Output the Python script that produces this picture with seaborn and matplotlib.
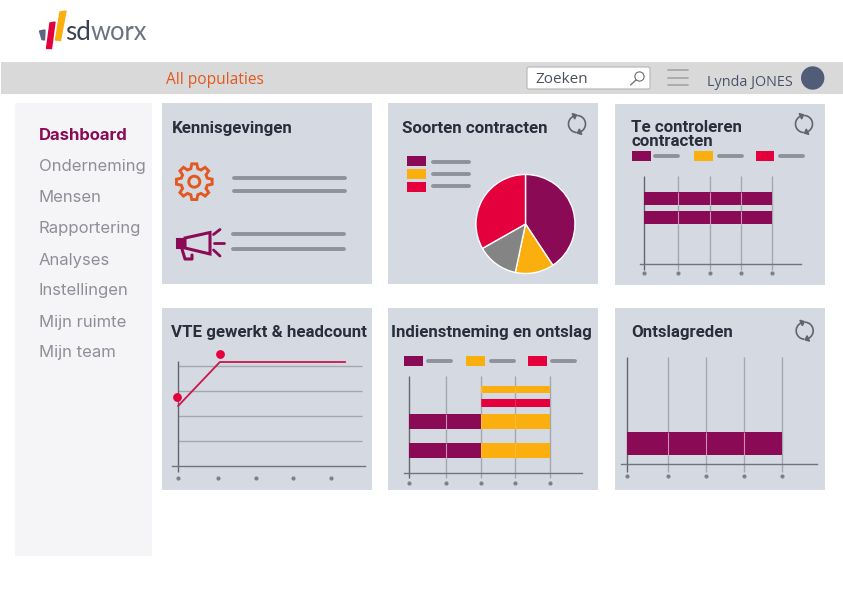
import numpy as np
import pandas as pd
import matplotlib
matplotlib.use('Agg')
import matplotlib.pyplot as plt
from matplotlib.patches import Rectangle, FancyBboxPatch, Circle, Polygon
import seaborn as sns

sns.set_theme(style='white')
plt.rcParams['font.family'] = ['Roboto', 'DejaVu Sans']

W, H = 843, 596
PURPLE = '#8a0a55'
YELLOW = '#fbaf0f'
RED = '#e4003c'
GREY = '#8d929c'
PANEL = '#d5dae2'
AXIS = '#70747e'
TITLE = '#2a2e3c'
ORANGE = '#e2581f'

fig = plt.figure(figsize=(W / 100, H / 100), dpi=100, facecolor='white')

# background layer in pixel coordinates
bg = fig.add_axes([0, 0, 1, 1])
bg.set_xlim(0, W)
bg.set_ylim(H, 0)
bg.axis('off')


def px_axes(left, top, right, bottom):
    ax = fig.add_axes([left / W, 1 - bottom / H, (right - left) / W, (bottom - top) / H])
    ax.patch.set_alpha(0)
    return ax


def box(x0, y0, x1, y1, color):
    bg.add_patch(Rectangle((x0, y0), x1 - x0, y1 - y0, facecolor=color, edgecolor='none'))


def stub(x0, x1, y, color=GREY, lw=2.8):
    bg.plot([x0, x1], [y, y], color=color, lw=lw, solid_capstyle='round')


# top bar and sidebar
box(1, 62, 843, 94, '#d9d9d9')
box(15, 103, 152, 556, '#f5f4f6')

# logo
bg.add_patch(Polygon([(39.5, 31), (45, 30), (44.5, 40), (42, 39.5)], color='#5c6680'))
bg.add_patch(Polygon([(50, 23), (55, 22), (51.5, 48.5), (46.5, 48.5)], color=RED))
bg.add_patch(Polygon([(60, 12), (66, 11), (60.5, 40.5), (55.5, 40)], color=YELLOW))
bg.text(65, 40, 'sd', fontsize=18.7, color='#3b4256', family='Lato', va='baseline')
bg.text(90.5, 40, 'worx', fontsize=18.4, color='#6d7280', family='Lato', va='baseline')

# header
bg.text(166, 80.5, 'All populaties', fontsize=11.2, color=ORANGE, family='Open Sans', va='center')
bg.add_patch(FancyBboxPatch((527, 67), 123, 22, boxstyle='round,pad=0,rounding_size=2',
                            facecolor='white', edgecolor='#b5b5b5', lw=0.8))
bg.text(535, 79.5, 'Zoeken', fontsize=11, color='#4a5060', family='Open Sans', va='center')
bg.add_patch(Circle((639.5, 76.5), 4.6, facecolor='none', edgecolor='#666b75', lw=0.8))
bg.plot([636, 630.5], [80, 85], color='#666b75', lw=0.9)
for y in [70, 77.5, 85]:
    bg.plot([668, 688], [y, y], color='#a9a9a9', lw=1.3)
bg.text(707, 82.5, 'Lynda JONES', fontsize=10.4, color='#4a5468', family='Open Sans', va='center')
bg.add_patch(Circle((812.7, 78), 11, color='#515c78'))

# side menu
menu = ['Dashboard', 'Onderneming', 'Mensen', 'Rapportering', 'Analyses',
        'Instellingen', 'Mijn ruimte', 'Mijn team']
for i, item in enumerate(menu):
    bg.text(39, 140.5 + 31 * i, item, fontsize=12, family='Inter', va='baseline',
            color=PURPLE if i == 0 else '#8e8f98', fontweight='bold' if i == 0 else 'normal')

# panels
panels = [(162, 103, 372, 284), (388, 103, 598, 284), (615, 104, 825, 285),
          (162, 308, 372, 490), (388, 308, 598, 490), (615, 308, 825, 490)]
for p in panels:
    box(*p, PANEL)

titles = [(172, 133, 'Kennisgevingen'), (402, 133, 'Soorten contracten'),
          (631, 132, 'Te controleren'), (631, 146, 'contracten'),
          (171, 337, 'VTE gewerkt & headcount'), (391, 337, 'Indienstneming en ontslag'),
          (631, 337, 'Ontslagreden')]
for x, y, t in titles:
    bg.text(x, y, t, fontsize=12.15, fontweight='bold', color=TITLE, va='baseline')


# refresh icons
def refresh(cx, cy, r=8.5):
    for start in [115, 295]:
        a = np.radians(np.linspace(start, start + 150, 30))
        bg.plot(cx + r * np.cos(a), cy - r * np.sin(a), color='#5f6570', lw=1.2)
        e = np.radians(start)
        ex, ey = cx + r * np.cos(e), cy - r * np.sin(e)
        bg.add_patch(Polygon([(ex + 3 * np.cos(e), ey - 3 * np.sin(e)),
                              (ex - 3 * np.cos(e), ey + 3 * np.sin(e)),
                              (ex + 3.5 * np.sin(e), ey + 3.5 * np.cos(e))], color='#5f6570'))


refresh(577, 124)
refresh(804, 124)
refresh(804.7, 330.7)

# Kennisgevingen: gear and megaphone
gear_angles = np.arange(0, 360, 45)
pts = []
for a in gear_angles:
    for da, r in [(-15, 13.5), (-8, 18), (8, 18), (15, 13.5)]:
        t = np.radians(a + da)
        pts.append((194.3 + r * np.cos(t), 181.7 + r * np.sin(t)))
bg.add_patch(Polygon(pts, closed=True, facecolor='none', edgecolor=ORANGE, lw=2.1))
bg.add_patch(Circle((194.3, 181.7), 5.5, facecolor='none', edgecolor=ORANGE, lw=2.1))
stub(233.5, 345, 177.7)
stub(233.5, 345, 191.3)

bg.add_patch(Polygon([(185, 238), (210, 232.5), (210, 254), (185, 248)], closed=True,
                     facecolor='none', edgecolor=PURPLE, lw=2.2))
bg.add_patch(Rectangle((177, 238.5), 8, 9.5, facecolor=PURPLE, edgecolor=PURPLE, lw=1.5))
bg.plot([182, 185, 192, 192], [249, 259, 259, 255], color=PURPLE, lw=2.2)
for seg in [((213.5, 234.5), (220, 229.5)), ((214, 242.5), (224, 242.5)), ((213.5, 250), (220, 256))]:
    bg.plot(*zip(*seg), color=PURPLE, lw=2)
stub(232.5, 344, 234.3)
stub(232.5, 344, 249)

# Soorten contracten: pie
for y0, col, ly in [(156.3, PURPLE, 161.7), (168.7, YELLOW, 173.7), (181.7, RED, 186)]:
    box(407, y0, 426, y0 + 10, col)
    stub(433, 469, ly)

pie_ax = px_axes(476, 174.5, 575, 273.5)
contracts = pd.Series({'a': 40.7, 'b': 12.6, 'c': 13.5, 'd': 33.2})
pie_ax.pie(contracts, colors=[PURPLE, YELLOW, '#848484', RED], startangle=90, counterclock=False,
           radius=1)
pie_ax.set_xlim(-1, 1)
pie_ax.set_ylim(-1, 1)


def bar_chart(left, top, right, axis_y, origin, ticks, rows, tick_y, grid_bottom):
    """Horizontal bars, the x and y units of the axes are pixels from first grid line / top."""
    ax = px_axes(left, top, right, axis_y)
    height = axis_y - top
    for row in rows.itertuples():
        sns.barplot(x=[row.length], y=[row.y], orient='y', native_scale=True, width=row.h,
                    left=row.start, color=row.color, saturation=1, errorbar=None, ax=ax, zorder=3,
                    linewidth=0, edgecolor='none')
    ax.set_xlim(left - origin, right - origin)
    ax.set_ylim(height, 0)
    ax.set_xticks([])
    ax.set_yticks([])
    ax.set_xlabel('')
    ax.set_ylabel('')
    sns.despine(ax=ax, left=True, top=True, right=True)
    ax.spines['bottom'].set_color(AXIS)
    ax.spines['bottom'].set_linewidth(1)
    # grid lines run a little past the axis
    ax.vlines(ticks, 0, grid_bottom - top, color=['#63666f'] + ['#a3a7af'] * (len(ticks) - 1),
              lw=1, zorder=1, clip_on=False)
    # where they cross a bar they show as a light hairline
    for row in rows.itertuples():
        for t in ticks:
            if row.start < t < row.start + row.length:
                ax.vlines(t, row.y - row.h / 2, row.y + row.h / 2, color='white',
                          alpha=0.55 if row.color == PURPLE else 0.15, lw=0.8, zorder=4)
    ax.scatter(ticks, [tick_y - top] * len(ticks), s=9, marker='o', color='#7d8088', lw=0, clip_on=False)
    return ax


# Te controleren contracten
for x0, col, l0, l1 in [(632.3, PURPLE, 655, 678), (694, YELLOW, 718.5, 741.5), (755.7, RED, 779.5, 802.5)]:
    box(x0, 151, x0 + 18.5, 161, col)
    stub(l0, l1, 156.3)

rows3 = pd.DataFrame({'y': [22.5, 41.5], 'start': [0, 0], 'length': [128, 128], 'h': [13, 13],
                      'color': [PURPLE, PURPLE]})
bar_chart(640, 176, 801, 264, 644, [0, 34, 66, 97, 128], rows3, 273, 270)

# VTE gewerkt & headcount
line_ax = px_axes(172, 341, 365, 466)
vte = pd.DataFrame({'x': [0, 1.1, 4.4], 'y': [2.4, 4.16, 4.16]})
peaks = pd.DataFrame({'x': [-0.03, 1.1], 'y': [2.76, 4.5]})
line_ax.hlines([1, 2, 3, 4], 0, 4.85, color='#a3a7af', lw=1, zorder=1)
sns.lineplot(data=vte, x='x', y='y', color='#c8174a', lw=1.3, ax=line_ax, zorder=3)
sns.scatterplot(data=peaks, x='x', y='y', color=RED, s=40, lw=0, ax=line_ax, zorder=4, clip_on=False)
line_ax.set_xlim(-0.16, 4.92)
line_ax.set_ylim(0, 5)
line_ax.set_xticks([])
line_ax.set_yticks([])
line_ax.set_xlabel('')
line_ax.set_ylabel('')
sns.despine(ax=line_ax, left=True, top=True, right=True)
line_ax.spines['bottom'].set_color(AXIS)
line_ax.spines['bottom'].set_linewidth(1)
line_ax.vlines(0, -0.25, 4.2, color='#63666f', lw=1, clip_on=False, zorder=2)
line_ax.scatter([0, 1.05, 2.05, 3.03, 4.03], [-0.48] * 5, s=9, marker='o', color='#7d8088', lw=0, clip_on=False)

# Indienstneming en ontslag
for x0, col, l0, l1 in [(404.3, PURPLE, 427.5, 450.5), (466, YELLOW, 491, 514), (527.7, RED, 552, 575)]:
    box(x0, 356, x0 + 18.8, 366, col)
    stub(l0, l1, 361)

rows5 = pd.DataFrame({
    'y': [13.4, 27, 45.7, 45.7, 74.7, 74.7],
    'start': [72, 72, 0, 72, 0, 72],
    'length': [69, 69, 72, 69, 72, 69],
    'h': [7.4, 7.4, 14.7, 14.7, 14.7, 14.7],
    'color': [YELLOW, RED, PURPLE, YELLOW, PURPLE, YELLOW],
})
bar_chart(404, 376, 581.7, 472.7, 408.7, [0, 37.6, 72.3, 106.6, 141.3], rows5, 483, 478)

# Ontslagreden
rows6 = pd.DataFrame({'y': [87], 'start': [0], 'length': [155.6], 'h': [23.3], 'color': [PURPLE]})
bar_chart(621, 356.7, 817, 464.3, 626.7, [0, 41.6, 79.6, 117.6, 155.6], rows6, 476, 471.7)

fig.savefig('out.png', dpi=100)
